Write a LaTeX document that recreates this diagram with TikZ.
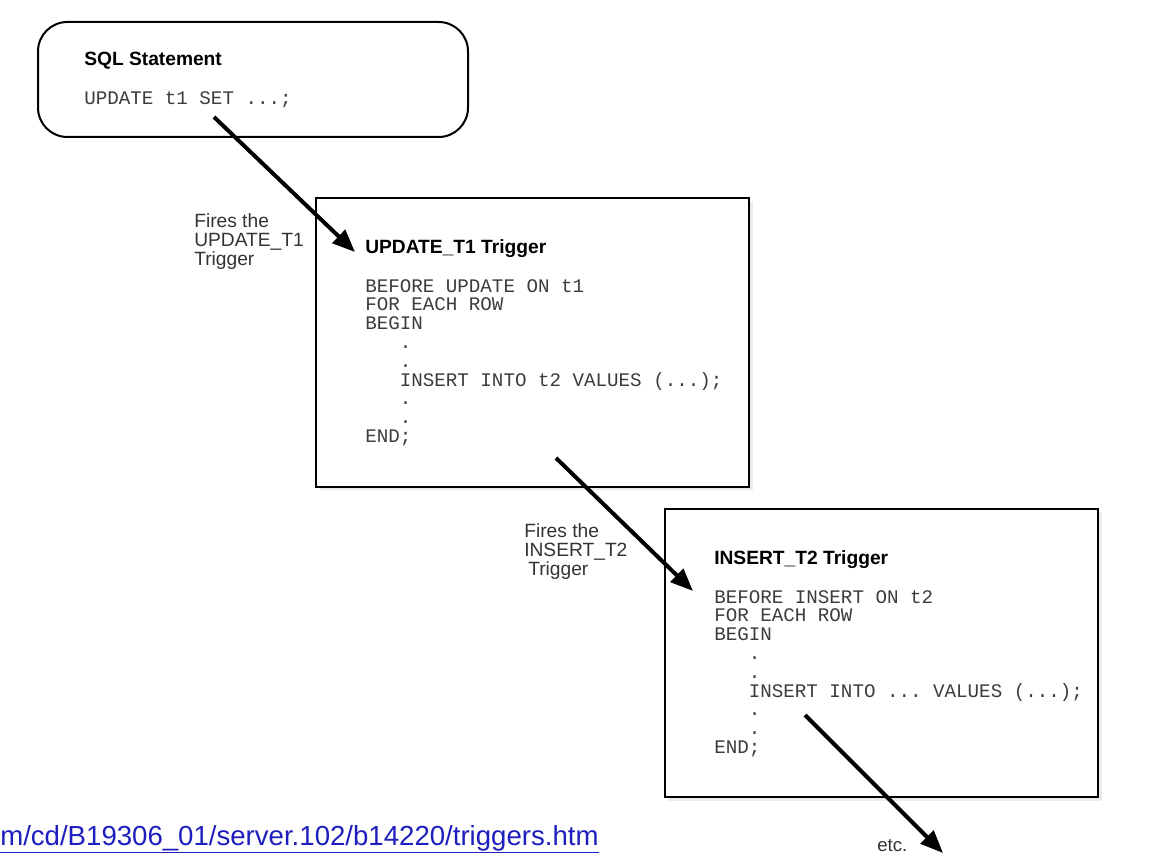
\documentclass[tikz,border=0pt]{standalone}
\usepackage{fontspec}
\setmainfont{Liberation Sans}
\setmonofont{Liberation Mono}
\usetikzlibrary{arrows.meta}
\definecolor{linkblue}{RGB}{30,30,190}
\definecolor{codegray}{RGB}{60,60,60}
\begin{document}
\begin{tikzpicture}[x=0.75pt,y=-0.75pt,
  boxframe/.style={draw=black, line width=1.5pt, inner sep=0pt, minimum width=324.75pt, minimum height=216.5pt},
  shadowbox/.style={fill=black!8, draw=none, inner sep=0pt, minimum width=324.75pt, minimum height=216.5pt},
  titletext/.style={anchor=base west, inner sep=0pt, font=\fontsize{14.4}{17}\selectfont\bfseries},
  codetext/.style={anchor=north west, inner sep=0pt, align=left, text=codegray, font=\fontsize{14.4}{14.1}\selectfont\ttfamily},
  labeltext/.style={anchor=north west, inner sep=0pt, align=left, text=black!80, font=\fontsize{14.4}{14.25}\selectfont},
  firearrow/.style={line width=3pt, -{Triangle[length=17pt,width=13.5pt]}}
]
\useasboundingbox (0,0) rectangle (1168,855);
\fill[white] (0,0) rectangle (1168,855);

% SQL statement box
\draw[black, line width=1.5pt, rounded corners=22] (38,22) rectangle (468,137);
\node[titletext] (t1) at (84,66) {SQL Statement};
\node[codetext] (c1) at (84,91) {UPDATE t1 SET ...;};

% UPDATE_T1 trigger box
\node[shadowbox] (s2) at (536,346) {};
\node[boxframe, fill=white] (b2) at (532.5,342.5) {};
\node[titletext] (t2) at (365,254) {UPDATE\_T1 Trigger};
\node[codetext] (c2) at (365,279) {BEFORE UPDATE ON t1\\FOR EACH ROW\\BEGIN\\\phantom{XXX}.\\\phantom{XXX}.\\\phantom{XXX}INSERT INTO t2 VALUES (...);\\\phantom{XXX}.\\\phantom{XXX}.\\END;};

% INSERT_T2 trigger box
\node[shadowbox] (s3) at (885,656.5) {};
\node[boxframe, fill=white] (b3) at (881.5,653) {};
\node[titletext] (t3) at (714,565) {INSERT\_T2 Trigger};
\node[codetext] (c3) at (714,590) {BEFORE INSERT ON t2\\FOR EACH ROW\\BEGIN\\\phantom{XXX}.\\\phantom{XXX}.\\\phantom{XXX}INSERT INTO ... VALUES (...);\\\phantom{XXX}.\\\phantom{XXX}.\\END;};

% labels
\node[labeltext] (l1) at (194,213) {Fires the\\UPDATE\_T1\\Trigger};
\node[labeltext] (l2) at (524,523) {Fires the\\INSERT\_T2\\\hspace{3pt}Trigger};
\node[anchor=base west, inner sep=0pt, text=black!80, font=\fontsize{14}{16}\selectfont] (etc) at (877,851) {etc.};

% arrows
\coordinate (a1s) at (214,117);
\coordinate (a1e) at (355,252);
\coordinate (a2s) at (556,458);
\coordinate (a2e) at (693,591);
\coordinate (a3s) at (805,715);
\coordinate (a3e) at (943,853);
\draw[firearrow] (a1s) -- (a1e);
\draw[firearrow] (a2s) -- (a2e);
\draw[firearrow] (a3s) -- (a3e);

% link
\node[anchor=base west, inner sep=0pt, text=linkblue, font=\fontsize{20.7}{24}\selectfont] (link) at (0,845) {\underline{m/cd/B19306\_01/server.102/b14220/triggers.htm}};
\end{tikzpicture}
\end{document}
